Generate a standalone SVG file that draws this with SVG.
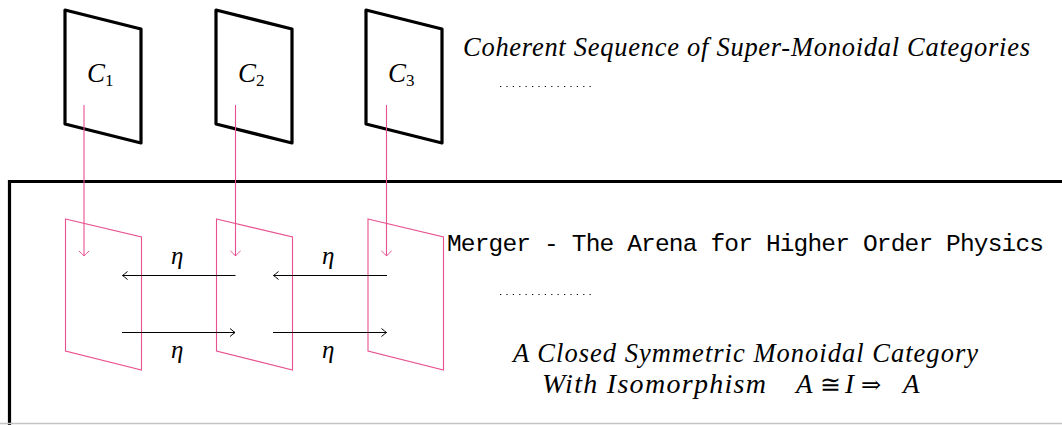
<svg xmlns="http://www.w3.org/2000/svg" width="1062" height="425" viewBox="0 0 1062 425">
<style>
.cat{fill:none;stroke:#000;stroke-width:3.2;stroke-linejoin:round}
.plane{fill:none;stroke:#e8508f;stroke-width:1.1}
.pk{fill:none;stroke:#e8508f;stroke-width:1.1}
.bk{fill:none;stroke:#000;stroke-width:1}
.mi{font-family:"Liberation Serif","DejaVu Serif",serif;font-style:italic;fill:#000}
.up{font-family:"Liberation Serif","DejaVu Serif",serif;font-style:normal;fill:#000}
.mono{font-family:"Liberation Mono","DejaVu Sans Mono",monospace;fill:#000}
.dots{stroke:#000;stroke-width:1.2;stroke-dasharray:1.2 5.2;fill:none}
</style>
<defs>
<marker id="ahk" markerWidth="10" markerHeight="10" refX="0" refY="0" viewBox="-6 -5 8 10" markerUnits="userSpaceOnUse" orient="auto">
<path d="M-5,-4 Q-1.5,-1 0,0 Q-1.5,1 -5,4" fill="none" stroke="#000" stroke-width="1"/>
</marker>
<marker id="ahp" markerWidth="16" markerHeight="12" refX="0" refY="0" viewBox="-8 -7 10 14" markerUnits="userSpaceOnUse" orient="auto">
<path d="M-6,-6 Q-1.5,-1 0,0 Q-1.5,1 -6,6" fill="none" stroke="#e8508f" stroke-width="1.1"/>
</marker>
</defs>
<rect width="1062" height="425" fill="#fff"/>

<g id="merger">
<path d="M9.5,425 V181.5 H1062" fill="none" stroke="#000" stroke-width="3.2"/>
<line x1="0" y1="423.5" x2="1062" y2="423.5" stroke="#c4c4c4" stroke-width="1.5"/>
<text class="mono" x="447" y="251" font-size="24.5" textLength="597">Merger - The Arena for Higher Order Physics</text>
<line class="dots" x1="500" y1="294.5" x2="592" y2="294.5"/>
<text class="mi" x="513" y="362" font-size="26.5" textLength="465">A Closed Symmetric Monoidal Category</text>
<text class="mi" x="542" y="393" font-size="27"><tspan font-size="28" textLength="224">With Isomorphism</tspan><tspan x="796">A</tspan><tspan class="up" x="820" font-style="normal" font-size="25">≅</tspan><tspan x="845">I</tspan><tspan class="up" x="861" font-style="normal" font-size="24">⇒</tspan><tspan x="903">A</tspan></text>
</g>

<g id="cat1">
<path class="cat" d="M65,10 L141,29 L141,143 L65,124 Z"/>
<text class="mi" x="87" y="82" font-size="27">C<tspan class="up" font-size="17" dy="4">1</tspan></text>
</g>
<g id="cat2">
<path class="cat" d="M216,10 L292,29 L292,143 L216,124 Z"/>
<text class="mi" x="238" y="82" font-size="27">C<tspan class="up" font-size="17" dy="4">2</tspan></text>
</g>
<g id="cat3">
<path class="cat" d="M366,10 L442,29 L442,143 L366,124 Z"/>
<text class="mi" x="388" y="82" font-size="27">C<tspan class="up" font-size="17" dy="4">3</tspan></text>
</g>

<g id="sequence-label">
<text class="mi" x="463" y="56" font-size="26.5" textLength="567">Coherent Sequence of Super-Monoidal Categories</text>
<line class="dots" x1="500" y1="86.5" x2="592" y2="86.5"/>
</g>

<g id="plane1"><path class="plane" d="M65.5,219 L141.5,237 L141.5,370 L65.5,351 Z"/></g>
<g id="plane2"><path class="plane" d="M216.5,219 L292.5,237 L292.5,370 L216.5,351 Z"/></g>
<g id="plane3"><path class="plane" d="M368,219 L443.5,237 L443.5,370 L368,351 Z"/></g>

<g id="connectors">
<line class="pk" x1="84" y1="105" x2="84" y2="256" marker-end="url(#ahp)"/>
<line class="pk" x1="235.5" y1="105" x2="235.5" y2="256" marker-end="url(#ahp)"/>
<line class="pk" x1="386.5" y1="105" x2="386.5" y2="256" marker-end="url(#ahp)"/>
<line class="bk" x1="235.5" y1="275.5" x2="122.5" y2="275.5" marker-end="url(#ahk)"/>
<line class="bk" x1="387" y1="275.5" x2="273.5" y2="275.5" marker-end="url(#ahk)"/>
<line class="bk" x1="122" y1="332.5" x2="235" y2="332.5" marker-end="url(#ahk)"/>
<line class="bk" x1="273" y1="332.5" x2="386.5" y2="332.5" marker-end="url(#ahk)"/>
<text class="mi" x="171" y="264" font-size="25">η</text>
<text class="mi" x="322" y="264" font-size="25">η</text>
<text class="mi" x="171" y="358" font-size="25">η</text>
<text class="mi" x="322" y="358" font-size="25">η</text>
</g>
</svg>
